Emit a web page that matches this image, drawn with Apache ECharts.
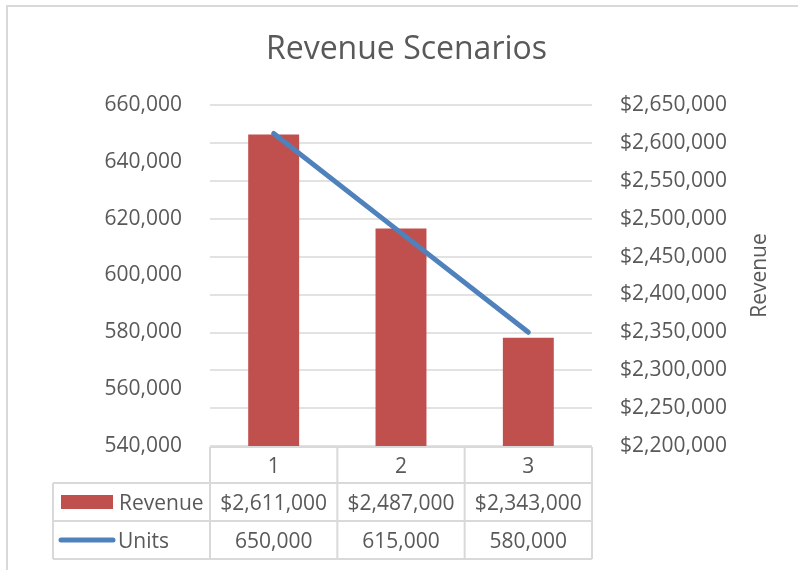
<!DOCTYPE html>
<html>
<head>
<meta charset="utf-8">
<script src="https://cdn.jsdelivr.net/npm/echarts@6/dist/echarts.min.js"></script>
<style>html,body{margin:0;padding:0;background:#fff;}#c{width:798px;height:570px;}</style>
</head>
<body>
<div id="c"></div>
<script>
const title = 'Revenue Scenarios';
const categories = ['1', '2', '3'];
const revenueName = 'Revenue';
const unitsName = 'Units';
const revenue = [2611000, 2487000, 2343000];
const units = [650000, 615000, 580000];
const unitsAxis = { min: 540000, max: 660000, interval: 20000 };
const revenueAxis = { min: 2200000, max: 2650000, interval: 50000 };

const FONT = 'Open Sans';
const TXT = '#595959';
const LINE = '#d9d9d9';
const RED = '#c0504d';
const BLUE = '#4f81bd';

const G = { left: 210, right: 206, top: 105, bottom: 124, W: 798, H: 570 };
const plotRight = G.W - G.right;
const colW = (plotRight - G.left) / categories.length;
const rowTops = [447, 483, 521, 559];
const tableLeft = 53;
const TXT_DY = 2;

const fmtNum = v => v.toLocaleString('en-US');
const fmtMoney = v => '$' + v.toLocaleString('en-US');

const graphics = [];
// outer chart border
graphics.push({ type: 'rect', shape: { x: 7, y: 6, width: 900, height: 700 }, style: { fill: null, stroke: LINE, lineWidth: 2 }, silent: true });
// title
graphics.push({ type: 'text', x: 406.5, y: 50, style: { text: title, fill: TXT, font: '32px "' + FONT + '"', align: 'center', verticalAlign: 'middle' } });
// table horizontal lines
graphics.push({ type: 'line', shape: { x1: G.left, y1: rowTops[0], x2: plotRight, y2: rowTops[0] }, style: { stroke: LINE, lineWidth: 2 } });
for (let r = 1; r < rowTops.length; r++) {
  graphics.push({ type: 'line', shape: { x1: tableLeft, y1: rowTops[r], x2: plotRight, y2: rowTops[r] }, style: { stroke: LINE, lineWidth: 2 } });
}
// table vertical lines
graphics.push({ type: 'line', shape: { x1: tableLeft, y1: rowTops[1], x2: tableLeft, y2: rowTops[3] }, style: { stroke: LINE, lineWidth: 2 } });
for (let i = 0; i <= categories.length; i++) {
  const x = G.left + i * colW;
  graphics.push({ type: 'line', shape: { x1: x, y1: rowTops[0], x2: x, y2: rowTops[3] }, style: { stroke: LINE, lineWidth: 2 } });
}
const cellText = (x, y, text) => ({ type: 'text', x: x, y: y + TXT_DY, style: { text: text, fill: TXT, font: '21px "' + FONT + '"', align: 'center', verticalAlign: 'middle' } });
categories.forEach((c, i) => {
  const cx = G.left + (i + 0.5) * colW;
  graphics.push(cellText(cx, (rowTops[0] + rowTops[1]) / 2, c));
  graphics.push(cellText(cx, (rowTops[1] + rowTops[2]) / 2, fmtMoney(revenue[i])));
  graphics.push(cellText(cx, (rowTops[2] + rowTops[3]) / 2, fmtNum(units[i])));
});
// legend keys
const r1 = (rowTops[1] + rowTops[2]) / 2, r2 = (rowTops[2] + rowTops[3]) / 2;
graphics.push({ type: 'rect', shape: { x: 61, y: r1 - 7, width: 52, height: 14 }, style: { fill: RED } });
graphics.push({ type: 'text', x: 119, y: r1 + TXT_DY, style: { text: revenueName, fill: TXT, font: '21px "' + FONT + '"', align: 'left', verticalAlign: 'middle' } });
graphics.push({ type: 'line', shape: { x1: 61, y1: r2, x2: 113, y2: r2 }, style: { stroke: BLUE, lineWidth: 5, lineCap: 'round' } });
graphics.push({ type: 'text', x: 118, y: r2 + TXT_DY, style: { text: unitsName, fill: TXT, font: '21px "' + FONT + '"', align: 'left', verticalAlign: 'middle' } });

const chart = echarts.init(document.getElementById('c'), null, { renderer: 'canvas' });
chart.setOption({
  backgroundColor: '#fff',
  animation: false,
  textStyle: { fontFamily: FONT, color: TXT },
  grid: { left: G.left, right: G.right, top: G.top, bottom: G.bottom, containLabel: false },
  xAxis: {
    type: 'category', data: categories,
    axisLine: { show: false }, axisTick: { show: false }, axisLabel: { show: false }, splitLine: { show: false }
  },
  yAxis: [
    {
      type: 'value', position: 'left', min: unitsAxis.min, max: unitsAxis.max, interval: unitsAxis.interval,
      axisLine: { show: false }, axisTick: { show: false }, splitLine: { show: false },
      axisLabel: { margin: 28, fontSize: 21, fontFamily: FONT, color: TXT, formatter: v => fmtNum(v) }
    },
    {
      type: 'value', position: 'right', min: revenueAxis.min, max: revenueAxis.max, interval: revenueAxis.interval,
      name: revenueName, nameLocation: 'middle', nameRotate: 90, nameGap: 158,
      nameTextStyle: { fontSize: 21, fontFamily: FONT, color: TXT },
      axisLine: { show: false }, axisTick: { show: false },
      splitLine: { show: true, lineStyle: { color: LINE, width: 1.5 } },
      axisLabel: { margin: 28, fontSize: 21, fontFamily: FONT, color: TXT, formatter: v => fmtMoney(v) }
    }
  ],
  series: [
    { name: revenueName, type: 'bar', yAxisIndex: 1, data: revenue, barWidth: '40%', itemStyle: { color: RED } },
    { name: unitsName, type: 'line', yAxisIndex: 0, data: units, showSymbol: false, symbol: 'none',
      lineStyle: { color: BLUE, width: 5, cap: 'round' }, z: 5 }
  ],
  graphic: graphics
});
</script>
</body>
</html>
